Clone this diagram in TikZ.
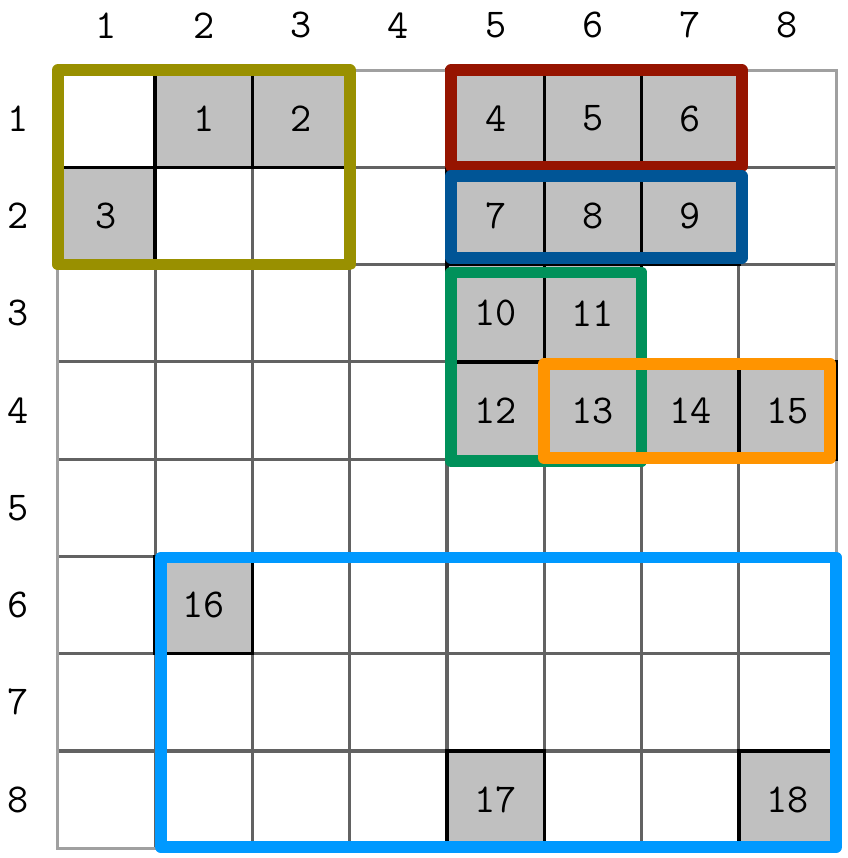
\documentclass[tikz,border=0pt]{standalone}
\usepackage{tikz}

\definecolor{cellgray}{HTML}{C0C0C0}
\definecolor{innergrid}{HTML}{626262}
\definecolor{outergrid}{HTML}{A0A0A0}
\definecolor{olivebox}{HTML}{999000}
\definecolor{redbox}{HTML}{961400}
\definecolor{bluebox}{HTML}{005596}
\definecolor{greenbox}{HTML}{00915A}
\definecolor{orangebox}{HTML}{FF9400}
\definecolor{skybox}{HTML}{0099FF}

\begin{document}
\begin{tikzpicture}[node distance=1cm,
    lbl/.style = {font=\ttfamily\fontsize{12}{14}\selectfont},
    cell/.style = {draw=black, line width=1pt, fill=cellgray, minimum size=1cm, inner sep=0pt, lbl},
    frame/.style = {line width=3.4pt, line join=round}]
    \useasboundingbox (-0.595,0.72) rectangle (8.113,-8.10);

    % grid
    \draw[innergrid, line width=0.9pt] (0,-8) grid (8,0);
    \draw[outergrid, line width=0.9pt] (0,0) rectangle (8,-8);

    % column and row numbers
    \node[lbl] (c1) at (0.5,0.46) {1};
    \node[lbl] (c2) [right of=c1] {2};
    \node[lbl] (c3) [right of=c2] {3};
    \node[lbl] (c4) [right of=c3] {4};
    \node[lbl] (c5) [right of=c4] {5};
    \node[lbl] (c6) [right of=c5] {6};
    \node[lbl] (c7) [right of=c6] {7};
    \node[lbl] (c8) [right of=c7] {8};
    \node[lbl] (r1) at (-0.41,-0.5) {1};
    \node[lbl] (r2) [below of=r1] {2};
    \node[lbl] (r3) [below of=r2] {3};
    \node[lbl] (r4) [below of=r3] {4};
    \node[lbl] (r5) [below of=r4] {5};
    \node[lbl] (r6) [below of=r5] {6};
    \node[lbl] (r7) [below of=r6] {7};
    \node[lbl] (r8) [below of=r7] {8};

    % filled cells
    \node[cell] (g1) at (1.5,-0.5) {1};
    \node[cell] (g2) [right of=g1] {2};
    \node[cell] (g3) at (0.5,-1.5) {3};
    \node[cell] (g4) at (4.5,-0.5) {4};
    \node[cell] (g5) [right of=g4] {5};
    \node[cell] (g6) [right of=g5] {6};
    \node[cell] (g7) [below of=g4] {7};
    \node[cell] (g8) [right of=g7] {8};
    \node[cell] (g9) [right of=g8] {9};
    \node[cell] (g10) [below of=g7] {10};
    \node[cell] (g11) [right of=g10] {11};
    \node[cell] (g12) [below of=g10] {12};
    \node[cell] (g13) [right of=g12] {13};
    \node[cell] (g14) [right of=g13] {14};
    \node[cell] (g15) [right of=g14] {15};
    \node[cell] (g16) at (1.5,-5.5) {16};
    \node[cell] (g17) at (4.5,-7.5) {17};
    \node[cell] (g18) at (7.5,-7.5) {18};

    % frames
    \draw[frame, olivebox] (0,0) rectangle (3,-2);
    \draw[frame, redbox] (4.04,0) rectangle (7.03,-0.99);
    \draw[frame, bluebox] (4.04,-1.09) rectangle (7.03,-1.93);
    \draw[frame, greenbox] (4.04,-2.08) rectangle (6,-4.02);
    \draw[frame, orangebox] (5,-3.02) rectangle (7.94,-3.99);
    \draw[frame, skybox] (1.06,-5.01) rectangle (8,-7.99);
\end{tikzpicture}
\end{document}
